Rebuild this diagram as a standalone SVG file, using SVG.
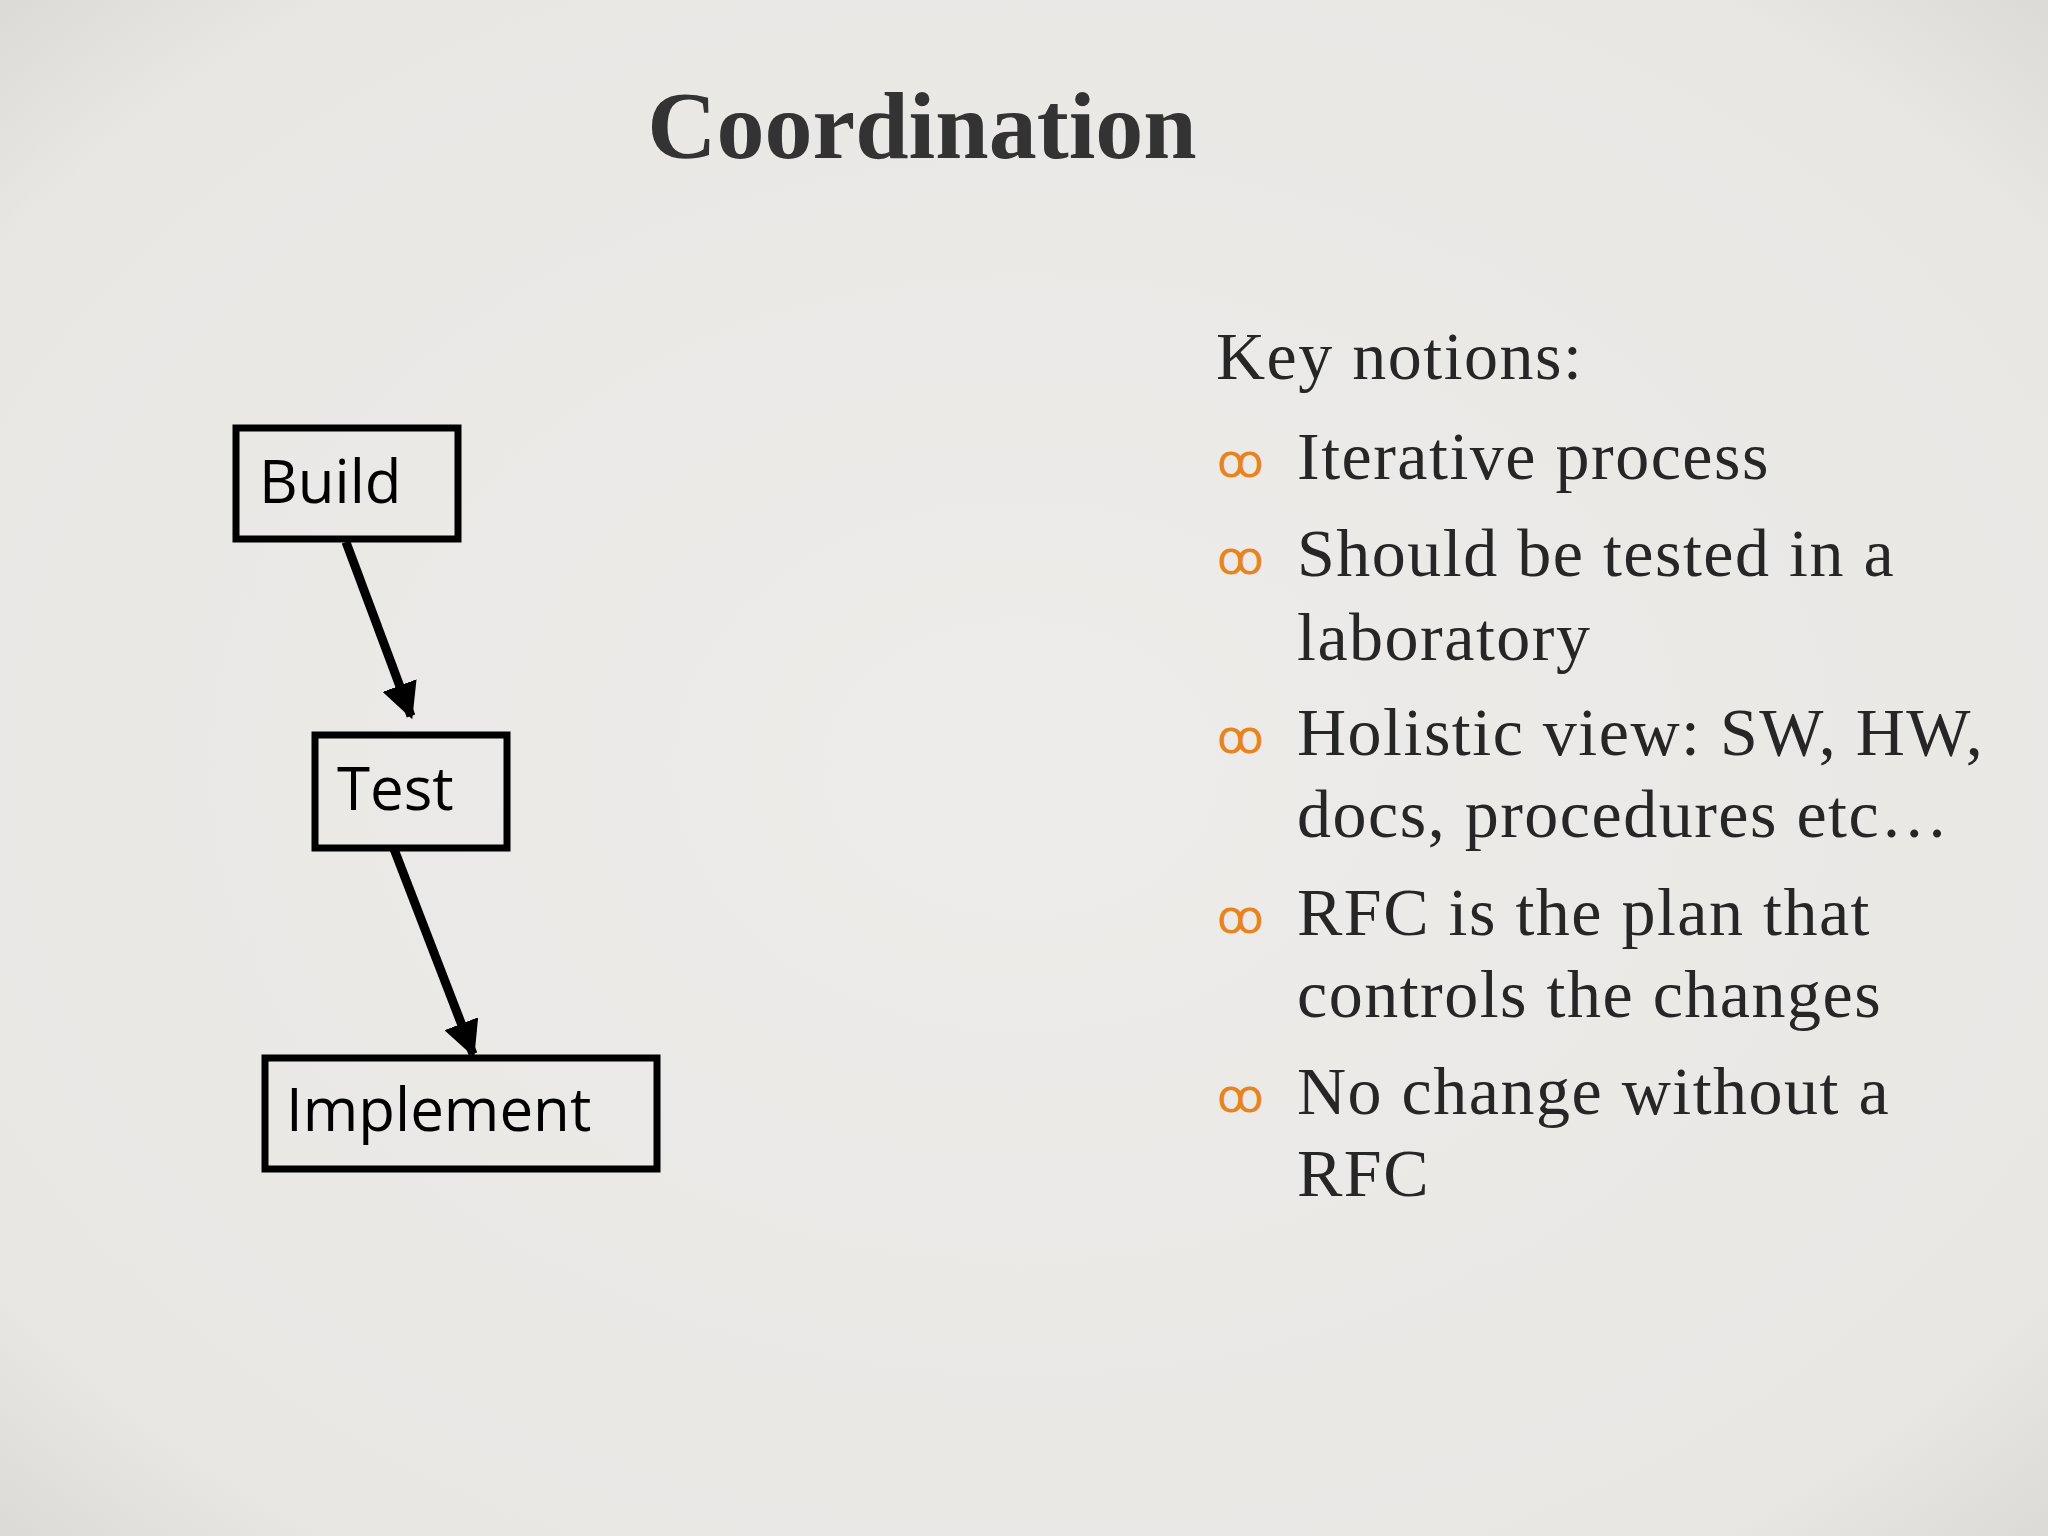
<svg xmlns="http://www.w3.org/2000/svg" width="2048" height="1536" viewBox="0 0 2048 1536">
<defs>
<radialGradient id="bg" cx="50%" cy="50%" r="75%">
<stop offset="0" stop-color="#EDECEA"/><stop offset="0.8" stop-color="#E8E7E4"/><stop offset="1" stop-color="#D6D5D2"/>
</radialGradient>
<marker id="ah" viewBox="0 0 10 10" refX="9" refY="5" markerWidth="4" markerHeight="4" orient="auto" markerUnits="strokeWidth"><path d="M0,0 L10,5 L0,10 z" fill="#000"/></marker>
<style>
.box{fill:none;stroke:#000;stroke-width:7}
.lbl{font-family:"Open Sans","DejaVu Sans",sans-serif;font-size:60px;fill:#000}
.t{font-family:"Liberation Serif","DejaVu Serif",serif;font-size:68px;letter-spacing:1.5px;fill:#262626}
.b{font-family:"DejaVu Sans",sans-serif;font-size:46px;fill:#E8841E}
.c{stroke:#000;stroke-width:9;fill:none;marker-end:url(#ah)}
</style>
</defs>
<rect width="2048" height="1536" fill="url(#bg)"/>
<text x="922" y="158" text-anchor="middle" font-family="Liberation Serif, serif" font-weight="bold" font-size="96" fill="#333">Coordination</text>
<g id="connectors">
<line class="c" x1="346" y1="542" x2="411" y2="716"/>
<line class="c" x1="394" y1="849" x2="473" y2="1054"/>
</g>
<g id="build"><rect class="box" x="236" y="428" width="222" height="111"/><text class="lbl" x="259" y="503">Build</text></g>
<g id="test"><rect class="box" x="315" y="735" width="192" height="113"/><text class="lbl" x="337" y="810">Test</text></g>
<g id="implement"><rect class="box" x="265" y="1058" width="392" height="111"/><text class="lbl" x="286" y="1131">Implement</text></g>
<g id="notes">
<text class="t" x="1216" y="379">Key notions:</text>
<text class="b" x="1217" y="477">ꝏ</text><text class="t" x="1297" y="479">Iterative process</text>
<text class="b" x="1217" y="574">ꝏ</text><text class="t" x="1297" y="576">Should be tested in a</text>
<text class="t" x="1297" y="660">laboratory</text>
<text class="b" x="1217" y="753">ꝏ</text><text class="t" x="1297" y="755">Holistic view: SW, HW,</text>
<text class="t" x="1297" y="837">docs, procedures etc…</text>
<text class="b" x="1217" y="933">ꝏ</text><text class="t" x="1297" y="935">RFC is the plan that</text>
<text class="t" x="1297" y="1017">controls the changes</text>
<text class="b" x="1217" y="1112">ꝏ</text><text class="t" x="1297" y="1114">No change without a</text>
<text class="t" x="1297" y="1196">RFC</text>
</g>
</svg>
